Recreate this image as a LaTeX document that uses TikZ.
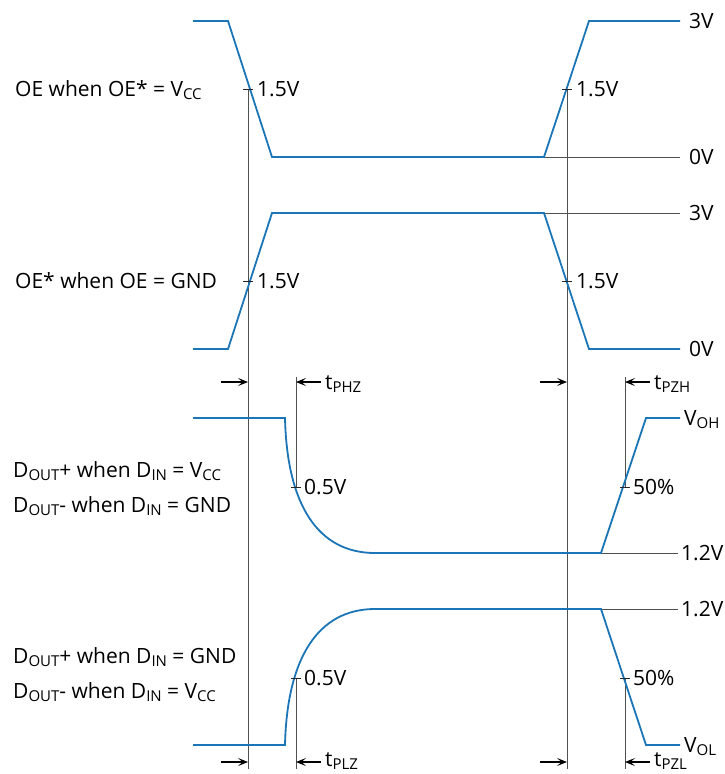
\documentclass[tikz,border=0pt]{standalone}
\usepackage{fontspec}
\setmainfont{Open Sans}
\usetikzlibrary{arrows.meta}
\definecolor{wave}{RGB}{27,117,182}
\definecolor{guide}{RGB}{80,80,80}
\newcommand{\sbx}[1]{\raisebox{-0.25ex}{\fontsize{15}{15}\selectfont #1}}
\begin{document}
\begin{tikzpicture}[x=1pt,y=-1pt,
  wv/.style={draw=wave,line width=1.8pt,line join=miter},
  gd/.style={draw=guide,line width=0.9pt},
  tk/.style={draw=black!85,line width=0.9pt},
  tarr/.style={draw=black,line width=1.1pt,-{Stealth[length=10pt,width=8pt,inset=4.5pt]}},
  lbl/.style={font=\fontsize{21}{21}\selectfont, inner sep=0pt, anchor=base west, yshift=-7.5pt},
]
\useasboundingbox (0,0) rectangle (724,774);

% ---- guide (vertical) lines
\coordinate (gA1) at (248,89);  \coordinate (gA2) at (248,769);
\coordinate (gB1) at (567,89);  \coordinate (gB2) at (567,769);
\draw[gd] (gA1) -- (gA2);
\draw[gd] (gB1) -- (gB2);
\coordinate (gC1) at (296,377); \coordinate (gC2) at (296,487);
\coordinate (gC3) at (296,678); \coordinate (gC4) at (296,769);
\coordinate (gD1) at (625,377); \coordinate (gD2) at (625,487);
\coordinate (gD3) at (625,678); \coordinate (gD4) at (625,769);
\draw[gd] (gC1) -- (gC2);
\draw[gd] (gC3) -- (gC4);
\draw[gd] (gD1) -- (gD2);
\draw[gd] (gD3) -- (gD4);

% ---- horizontal reference lines
\coordinate (r1a) at (544,157); \coordinate (r1b) at (680,157);
\coordinate (r2a) at (544,213); \coordinate (r2b) at (680,213);
\coordinate (r3a) at (601,553); \coordinate (r3b) at (678,553);
\coordinate (r4a) at (601,609); \coordinate (r4b) at (678,609);
\draw[gd] (r1a) -- (r1b);
\draw[gd] (r2a) -- (r2b);
\draw[gd] (r3a) -- (r3b);
\draw[gd] (r4a) -- (r4b);

% ---- waveforms
\draw[wv] (193,21) -- (228,21) -- (272,157) -- (544,157) -- (589,21) -- (680,21);
\draw[wv] (193,349) -- (228,349) -- (272,213) -- (544,213) -- (589,349) -- (680,349);
\draw[wv] (193,418) -- (285,418) .. controls (287,505) and (318,553) .. (375,553)
          -- (601,553) -- (646,418) -- (680,418);
\draw[wv] (193,745) -- (285,745) .. controls (287,658) and (318,609) .. (375,609)
          -- (601,609) -- (646,745) -- (680,745);

% ---- ticks
\foreach \n/\x/\y in {t1/248/89, t2/567/89, t3/248/281, t4/567/281,
                      t5/296/487, t6/625/487, t7/296/678, t8/625/678}{
  \coordinate (\n a) at (\x-5,\y); \coordinate (\n b) at (\x+5,\y);
  \draw[tk] (\n a) -- (\n b);
}
\node[lbl] (v1) at (257,89) {1.5V};
\node[lbl] (v2) at (576,89) {1.5V};
\node[lbl] (v3) at (257,281) {1.5V};
\node[lbl] (v4) at (576,281) {1.5V};
\node[lbl] (v5) at (304,487) {0.5V};
\node[lbl] (v6) at (633,487) {50\%};
\node[lbl] (v7) at (304,678) {0.5V};
\node[lbl] (v8) at (633,678) {50\%};

% ---- right level labels
\node[lbl] (l3a) at (689,21) {3V};
\node[lbl] (l0a) at (689,157) {0V};
\node[lbl] (l3b) at (689,213) {3V};
\node[lbl] (l0b) at (689,349) {0V};
\node[lbl] (loh) at (684,418) {V\sbx{OH}};
\node[lbl] (l12a) at (681,553) {1.2V};
\node[lbl] (l12b) at (681,609) {1.2V};
\node[lbl] (lol) at (684,745) {V\sbx{OL}};

% ---- left signal labels
\node[lbl] (s1) at (15,89) {OE when OE* = V\sbx{CC}};
\node[lbl] (s2) at (15,281) {OE* when OE = GND};
\node[lbl] (s3) at (13,470) {D\sbx{OUT}+ when D\sbx{IN} = V\sbx{CC}};
\node[lbl] (s4) at (13,505) {D\sbx{OUT}- when D\sbx{IN} = GND};
\node[lbl] (s5) at (13,656) {D\sbx{OUT}+ when D\sbx{IN} = GND};
\node[lbl] (s6) at (13,691) {D\sbx{OUT}- when D\sbx{IN} = V\sbx{CC}};

% ---- timing arrows
\coordinate (a1s) at (221,382); \coordinate (a1e) at (248,382);
\coordinate (a2s) at (321,382); \coordinate (a2e) at (296,382);
\coordinate (a3s) at (540,382); \coordinate (a3e) at (567,382);
\coordinate (a4s) at (650,382); \coordinate (a4e) at (625,382);
\coordinate (b1s) at (221,762); \coordinate (b1e) at (248,762);
\coordinate (b2s) at (321,762); \coordinate (b2e) at (296,762);
\coordinate (b3s) at (540,762); \coordinate (b3e) at (567,762);
\coordinate (b4s) at (650,762); \coordinate (b4e) at (625,762);
\draw[tarr] (a1s) -- (a1e);
\draw[tarr] (a2s) -- (a2e);
\draw[tarr] (a3s) -- (a3e);
\draw[tarr] (a4s) -- (a4e);
\draw[tarr] (b1s) -- (b1e);
\draw[tarr] (b2s) -- (b2e);
\draw[tarr] (b3s) -- (b3e);
\draw[tarr] (b4s) -- (b4e);
\node[lbl] (tphz) at (325,382) {t\sbx{PHZ}};
\node[lbl] (tpzh) at (654,382) {t\sbx{PZH}};
\node[lbl] (tplz) at (325,759) {t\sbx{PLZ}};
\node[lbl] (tpzl) at (654,759) {t\sbx{PZL}};
\end{tikzpicture}
\end{document}
